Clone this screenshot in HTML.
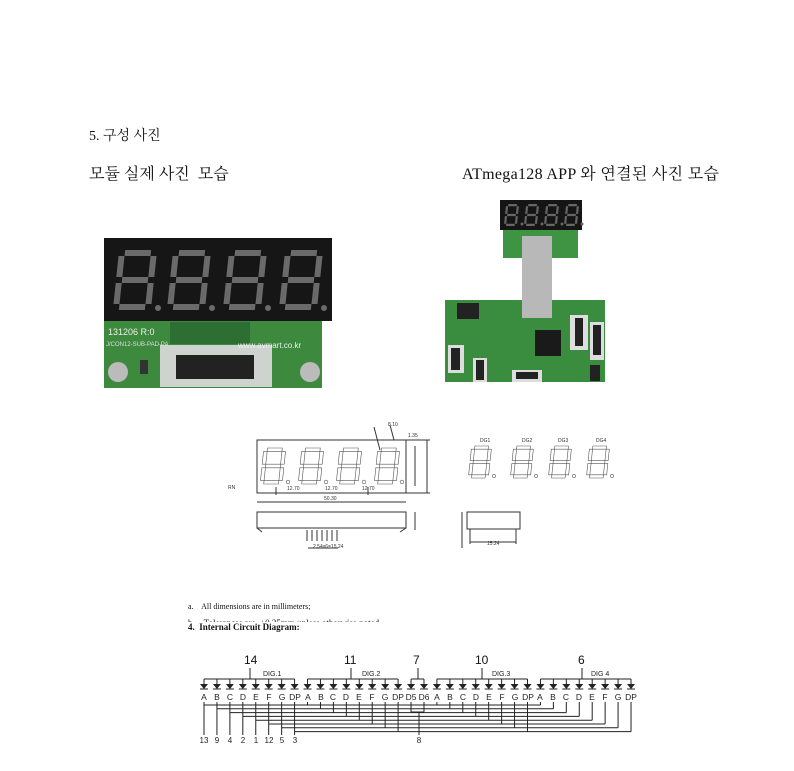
<!DOCTYPE html>
<html><head><meta charset="utf-8"><style>
body{margin:0;background:#fff;width:794px;height:771px;overflow:hidden;font-family:"Liberation Serif","Noto Serif CJK SC","Noto Sans CJK KR",serif}
.t{position:absolute;font-size:14px;color:#111;white-space:nowrap}
</style></head><body>
<div class="t" style="left:89px;top:125px">5. 구성 사진</div>
<div class="t" style="left:89px;top:161px;font-size:16px">모듈 실제 사진&nbsp; 모습</div>
<div class="t" style="left:462px;top:161px;font-size:16px;letter-spacing:0.3px">ATmega128 APP 와 연결된 사진 모습</div>
<svg width="794" height="771" style="position:absolute;left:0;top:0" xmlns="http://www.w3.org/2000/svg">
<rect x="104" y="238" width="228" height="83" fill="#161616"/>
<g id="d1"></g>
<rect x="104" y="321" width="218" height="67" fill="#3d8a3e"/>
<rect x="160" y="345" width="112" height="42" fill="#cfd3cf"/>
<rect x="176" y="355" width="78" height="24" fill="#222"/>
<rect x="170" y="322" width="80" height="22" fill="#2d6f33"/>
<circle cx="118" cy="372" r="10" fill="#bbb"/><circle cx="310" cy="372" r="10" fill="#bbb"/>
<rect x="140" y="360" width="8" height="14" fill="#333"/>
<text x="108" y="335" font-family="Liberation Sans" font-size="9" fill="#eee">131206 R:0</text>
<text x="106" y="346" font-family="Liberation Sans" font-size="6" fill="#ddd">J/CON12-SUB-PAD-PA</text>
<text x="238" y="348" font-family="Liberation Sans" font-size="8" fill="#eee">www.avmart.co.kr</text>
<rect x="500" y="200" width="82" height="30" fill="#151515"/>
<g id="d2"></g>
<rect x="503" y="230" width="75" height="28" fill="#3f9443"/>
<rect x="445" y="300" width="160" height="82" fill="#3a8c3f"/>
<rect x="522" y="236" width="30" height="82" fill="#b8b8b8"/>
<rect x="535" y="330" width="26" height="26" fill="#1a1a1a"/>
<rect x="457" y="303" width="22" height="16" fill="#222"/>
<rect x="570" y="315" width="18" height="35" fill="#ddd"/><rect x="575" y="318" width="8" height="28" fill="#222"/>
<rect x="590" y="322" width="14" height="38" fill="#ddd"/><rect x="593" y="325" width="8" height="30" fill="#222"/>
<rect x="448" y="345" width="16" height="28" fill="#ddd"/><rect x="451" y="348" width="9" height="22" fill="#222"/>
<rect x="473" y="358" width="14" height="24" fill="#ddd"/><rect x="476" y="360" width="8" height="20" fill="#222"/>
<rect x="512" y="370" width="30" height="12" fill="#ddd"/><rect x="516" y="372" width="22" height="7" fill="#222"/>
<rect x="590" y="365" width="10" height="16" fill="#222"/>
<g fill="none" stroke="#333" stroke-width="1">
<rect x="257" y="440" width="149" height="53"/>
<g id="mdig"></g>
<line x1="406" y1="440" x2="430" y2="440"/><line x1="406" y1="493" x2="430" y2="493"/>
<line x1="427" y1="440" x2="427" y2="493"/><line x1="415" y1="446" x2="415" y2="486"/>
<line x1="257" y1="502" x2="406" y2="502"/><line x1="276" y1="487" x2="276" y2="495"/><line x1="368" y1="487" x2="368" y2="495"/>
<line x1="374" y1="427" x2="380" y2="450"/><line x1="390" y1="425" x2="394" y2="440"/>
<rect x="257" y="512" width="149" height="16"/>
<line x1="257" y1="528" x2="262" y2="532"/><line x1="406" y1="528" x2="400" y2="532"/>
<path d="M307 530v11M312 530v11M317 530v11M322 530v11M327 530v11M332 530v11M337 530v11M308 548h30"/>
<line x1="415" y1="512" x2="415" y2="530"/>
<rect x="467" y="512" width="53" height="17"/>
<path d="M470 529v15M516 529v15M470 542h46M462 512v36"/>
<g id="rdig"></g>
</g>
<g font-family="Liberation Sans" font-size="5" fill="#333">
<text x="228" y="489">RN</text><text x="287" y="490">12.70</text><text x="325" y="490">12.70</text><text x="362" y="490">12.70</text>
<text x="324" y="500">50.30</text><text x="388" y="426">8.10</text><text x="408" y="437">1.35</text>
<text x="313" y="548">2.54x6=15.24</text><text x="487" y="545">15.24</text>
<text x="480" y="442">DG1</text><text x="522" y="442">DG2</text><text x="558" y="442">DG3</text><text x="596" y="442">DG4</text>
</g>
<g font-family="Liberation Serif" font-size="8" fill="#111">
<text x="188" y="609">a.&#160;&#160;&#160; All dimensions are in millimeters;</text>
<text x="188" y="630" font-weight="bold" font-size="9">4.&#160;&#160;Internal Circuit Diagram:</text>
</g>
<clipPath id="cp"><rect x="180" y="612" width="300" height="10"/></clipPath>
<text x="188" y="626" font-family="Liberation Serif" font-size="9" fill="#111" clip-path="url(#cp)">b.&#160;&#160;&#160; Tolerances are&#160; ±0.25mm unless otherwise noted</text>
<g id="circ" fill="none" stroke="#222" stroke-width="1"></g>
<g font-family="Liberation Sans" font-size="12" fill="#111">
<text x="244" y="664">14</text><text x="344" y="664">11</text><text x="413" y="664">7</text><text x="475" y="664">10</text><text x="578" y="664">6</text>
</g>
<g font-family="Liberation Sans" font-size="7" fill="#222">
<text x="263" y="676">DIG.1</text><text x="362" y="676">DIG.2</text><text x="492" y="676">DIG.3</text><text x="591" y="676">DIG 4</text>
</g>
<g font-family="Liberation Sans" font-size="8.5" fill="#222" text-anchor="middle">
<text x="204" y="700">A</text><text x="217" y="700">B</text><text x="230" y="700">C</text><text x="243" y="700">D</text><text x="256" y="700">E</text><text x="269" y="700">F</text><text x="282" y="700">G</text><text x="295" y="700">DP</text>
<text x="308" y="700">A</text><text x="321" y="700">B</text><text x="333" y="700">C</text><text x="346" y="700">D</text><text x="359" y="700">E</text><text x="372" y="700">F</text><text x="385" y="700">G</text><text x="398" y="700">DP</text>
<text x="411" y="700">D5</text><text x="424" y="700">D6</text>
<text x="437" y="700">A</text><text x="450" y="700">B</text><text x="463" y="700">C</text><text x="476" y="700">D</text><text x="489" y="700">E</text><text x="502" y="700">F</text><text x="515" y="700">G</text><text x="528" y="700">DP</text>
<text x="540" y="700">A</text><text x="553" y="700">B</text><text x="566" y="700">C</text><text x="579" y="700">D</text><text x="592" y="700">E</text><text x="605" y="700">F</text><text x="618" y="700">G</text><text x="631" y="700">DP</text>
</g>
<g font-family="Liberation Sans" font-size="8" fill="#222" text-anchor="middle">
<text x="204" y="743">13</text><text x="217" y="743">9</text><text x="230" y="743">4</text><text x="243" y="743">2</text><text x="256" y="743">1</text><text x="269" y="743">12</text><text x="282" y="743">5</text><text x="295" y="743">3</text><text x="419" y="743">8</text>
</g>
</svg>
<script>
var NS="http://www.w3.org/2000/svg";
function el(p,t,a){var e=document.createElementNS(NS,t);for(var k in a)e.setAttribute(k,a[k]);p.appendChild(e);return e;}
function seg(g,x,y,w,h,fill,stroke){
 var t=h/10,hh=h/2;
 var s=[[x+t,y,w-2*t,t],[x+t,y+hh-t/2,w-2*t,t],[x+t,y+h-t,w-2*t,t]];
 var v=[[x,y+t,t,hh-1.5*t],[x+w-t,y+t,t,hh-1.5*t],[x,y+hh+t/2,t,hh-1.5*t],[x+w-t,y+hh+t/2,t,hh-1.5*t]];
 s.concat(v).forEach(function(r){el(g,"rect",{x:r[0],y:r[1],width:r[2],height:r[3],fill:fill,stroke:stroke,"stroke-width":0.6,transform:"skewX(-6)","transform-origin":(x+w/2)+" "+(y+h/2)});});
 el(g,"circle",{cx:x+w+4,cy:y+h-2,r:Math.max(1.5,t/2),fill:fill,stroke:stroke,"stroke-width":0.6});
}
var d1=document.getElementById("d1");[116,170,226,282].forEach(function(x){seg(d1,x,250,38,60,"#6a6a6a","none");});
var d2=document.getElementById("d2");[505,525,545,565].forEach(function(x){seg(d2,x,204,13,22,"#666","none");});
var m=document.getElementById("mdig");[262,300,338,376].forEach(function(x){seg(m,x,448,22,36,"none","#555");});
var r=document.getElementById("rdig");[470,512,550,588].forEach(function(x){seg(r,x,446,20,32,"none","#555");});
var c=document.getElementById("circ"),d="";
var X=function(i){return 204+12.94*i;};
var groups=[[0,7,250],[8,15,351],[16,17,418],[18,25,482],[26,33,582]];
groups.forEach(function(g){d+="M"+X(g[0])+" 679H"+X(g[1])+"M"+g[2]+" 668V679";});
for(var i=0;i<34;i++){var x=X(i);d+="M"+x+" 679V684";el(c,"path",{d:"M"+(x-4)+" 684h8l-4 5z",fill:"#222",stroke:"none"});el(c,"path",{d:"M"+(x-4)+" 689h8",stroke:"#222"});}
for(var k=0;k<8;k++){var y=705+k*3.8;var cols=[k,8+k,18+k,26+k];
 d+="M"+X(k)+" "+y+"H"+X(26+k);
 cols.forEach(function(ci){d+="M"+X(ci)+" 702V"+y;});
 d+="M"+X(k)+" "+y+"V735";}
d+="M"+X(16)+" 702V712M"+X(17)+" 702V712M"+X(16)+" 712H"+X(17)+"M419 712V735";
el(c,"path",{d:d});
</script>
</body></html>
